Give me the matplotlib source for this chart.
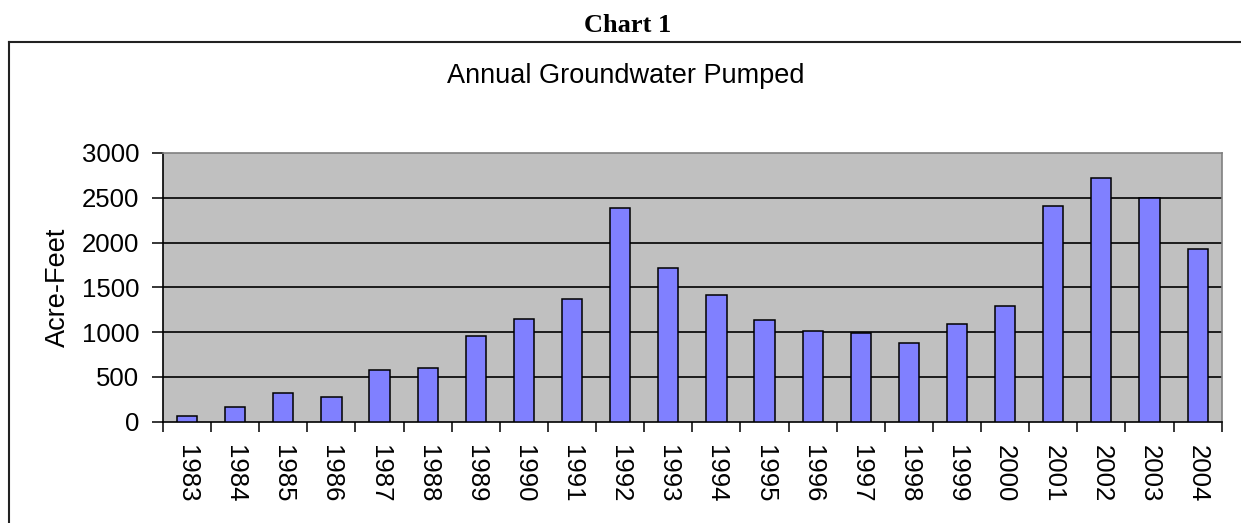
import matplotlib
matplotlib.use("Agg")
import matplotlib.pyplot as plt
from matplotlib.lines import Line2D
from matplotlib.ticker import FixedLocator

# Annual groundwater pumping, acre-feet
years = ["1983", "1984", "1985", "1986", "1987", "1988", "1989", "1990",
         "1991", "1992", "1993", "1994", "1995", "1996", "1997", "1998",
         "1999", "2000", "2001", "2002", "2003", "2004"]
pumped = [60, 165, 315, 280, 575, 595, 955, 1150, 1370, 2385, 1715, 1415,
          1135, 1010, 995, 880, 1095, 1295, 2405, 2725, 2500, 1930]
y_ticks = [0, 500, 1000, 1500, 2000, 2500, 3000]

plt.rcParams["font.family"] = ["Liberation Sans", "DejaVu Sans"]

fig = plt.figure(figsize=(12.41, 5.23), dpi=100)
fig.patch.set_facecolor("white")

# Page heading and frame around the chart
fig.text(0.506, 0.952, "Chart 1", ha="center", va="center",
         fontsize=19, fontweight="bold", family=["Liberation Serif", "DejaVu Serif"])
fig.add_artist(Line2D([9 / 1241, 1.0], [1 - 42.3 / 523, 1 - 42.3 / 523],
                      transform=fig.transFigure, color="#222222", lw=1.5))
fig.add_artist(Line2D([9 / 1241, 9 / 1241], [0.0, 1 - 42.3 / 523],
                      transform=fig.transFigure, color="#222222", lw=1.5))

fig.text(0.504, 0.855, "Annual Groundwater Pumped", ha="center", va="center",
         fontsize=19.5)

ax = fig.add_axes([163 / 1241, 1 - 421.7 / 523, (1221.7 - 163) / 1241,
                   (421.7 - 153) / 523])
ax.set_facecolor("#C0C0C0")

x = list(range(len(years)))
ax.bar(x, pumped, width=0.42, color="#8080FF", edgecolor="black",
       linewidth=1.1, zorder=3)

ax.set_xlim(-0.5, len(years) - 0.5)
ax.set_ylim(0, 3000)

# Horizontal gridlines
for v in y_ticks[1:-1]:
    ax.axhline(v, color="black", lw=1.2, zorder=1)

ax.set_yticks(y_ticks)
ax.set_yticklabels([str(v) for v in y_ticks], fontsize=18.5)
ax.tick_params(axis="y", direction="out", length=8, width=1.1, pad=9)

# Year labels centred on bars, ticks on the category boundaries
ax.set_xticks(x)
ax.set_xticklabels(years, rotation=270, fontsize=18.5, ha="center", va="top")
ax.tick_params(axis="x", which="major", length=0, pad=17)
ax.xaxis.set_minor_locator(FixedLocator([i - 0.5 for i in range(len(years) + 1)]))
ax.tick_params(axis="x", which="minor", direction="out", length=7, width=1.1)

ax.set_ylabel("Acre-Feet", fontsize=19.5, labelpad=8)

for side in ("left", "bottom"):
    ax.spines[side].set_color("black")
    ax.spines[side].set_linewidth(1.2)
for side in ("top", "right"):
    ax.spines[side].set_color("#808080")
    ax.spines[side].set_linewidth(1.2)

fig.savefig("out.png", dpi=100)
